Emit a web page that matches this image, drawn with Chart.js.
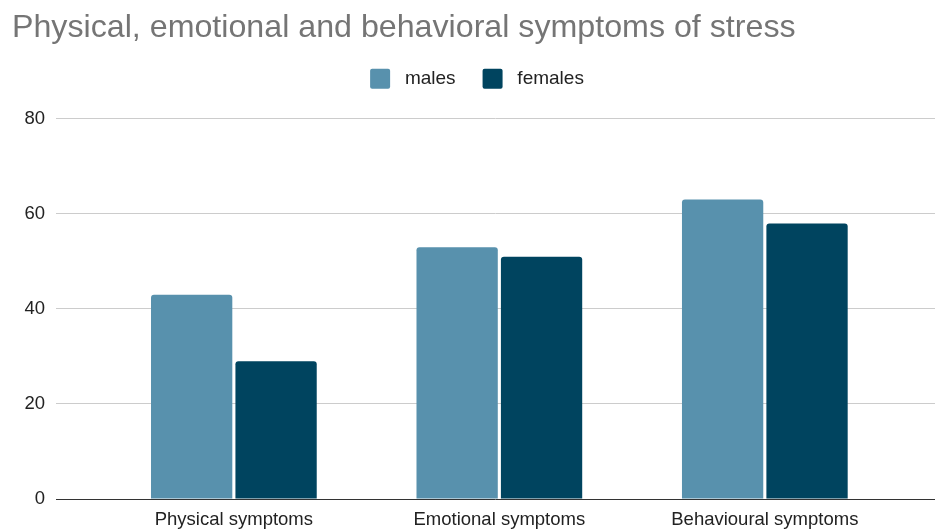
<html>
<head>
    <script src="https://cdn.jsdelivr.net/npm/chart.js@4.4.0/dist/chart.umd.min.js"></script>
    <style>
        body { margin: 0; background: #fff; }
        #wrap { width: 935px; height: 529px; }
    </style>
</head>
<body>
<div id="wrap"><canvas id="chart"></canvas></div>
<script>
    // values
    let categories = ['Physical symptoms', 'Emotional symptoms', 'Behavioural symptoms'];
    let males = [43, 53, 63];
    let females = [29, 51, 58];
    let yTicks = [0, 20, 40, 60, 80];

    Chart.defaults.font.family = 'Arial, "Liberation Sans", sans-serif';
    Chart.defaults.color = '#222';

    // legend sits higher than chart.js would put it, so give it some room below
    let legendGap = {
        id: 'legendGap',
        beforeInit(chart) {
            let fit = chart.legend.fit;
            chart.legend.fit = function () {
                fit.bind(chart.legend)();
                this.height += 20;
                if (this.lineWidths) this.lineWidths[0] -= 7;
            };
        }
    };

    let toPoints = arr => arr.map((v, i) => ({ x: i, y: v }));

    new Chart(document.getElementById('chart').getContext('2d'), {
        type: 'bar',
        data: {
            datasets: [
                { label: 'males', data: toPoints(males), backgroundColor: '#5891ad' },
                { label: 'females', data: toPoints(females), backgroundColor: '#00445f' }
            ]
        },
        options: {
            responsive: true,
            maintainAspectRatio: false,
            animation: false,
            layout: { padding: { left: 12, right: 0, top: 0, bottom: 0 } },
            datasets: {
                bar: {
                    categoryPercentage: 0.636,
                    barPercentage: 0.963,
                    borderRadius: { topLeft: 3, topRight: 3 },
                    borderSkipped: 'bottom'
                }
            },
            scales: {
                x: {
                    type: 'linear',
                    offset: false,
                    min: -0.67,
                    max: 2.641,
                    afterFit: axis => { axis.height = 30; },
                    grid: { display: false, drawTicks: false, offset: false },
                    border: { display: false },
                    ticks: {
                        stepSize: 1,
                        includeBounds: false,
                        autoSkip: false,
                        maxRotation: 0,
                        padding: 12,
                        font: { size: 18.5, lineHeight: 1 },
                        color: '#222',
                        callback: v => Number.isInteger(v) ? categories[v] : ''
                    }
                },
                y: {
                    min: yTicks[0],
                    max: yTicks[yTicks.length - 1],
                    afterBuildTicks: axis => { axis.ticks = yTicks.map(v => ({ value: v })); },
                    afterFit: axis => { axis.width = 44; },
                    grid: {
                        drawTicks: false,
                        color: c => c.tick && c.tick.value === 0 ? '#333333' : '#cccccc',
                        lineWidth: 1
                    },
                    border: { display: false },
                    ticks: {
                        padding: 11,
                        font: { size: 18.5 },
                        color: '#222'
                    }
                }
            },
            plugins: {
                title: {
                    display: true,
                    text: 'Physical, emotional and behavioral symptoms of stress',
                    align: 'start',
                    color: '#757575',
                    font: { size: 32.2, weight: 'normal', lineHeight: 0.88 },
                    padding: { top: 13.5, bottom: 0 }
                },
                legend: {
                    display: true,
                    position: 'top',
                    align: 'center',
                    labels: {
                        boxWidth: 20,
                        boxHeight: 20,
                        padding: 27,
                        useBorderRadius: true,
                        borderRadius: 2,
                        color: '#222',
                        font: { size: 19 },
                        generateLabels: chart => {
                            let items = Chart.defaults.plugins.legend.labels.generateLabels(chart);
                            items.forEach(it => { it.text = ' ' + it.text; it.lineWidth = 0; });
                            return items;
                        }
                    }
                },
                tooltip: { enabled: false }
            }
        },
        plugins: [legendGap]
    });
</script>
</body>
</html>
